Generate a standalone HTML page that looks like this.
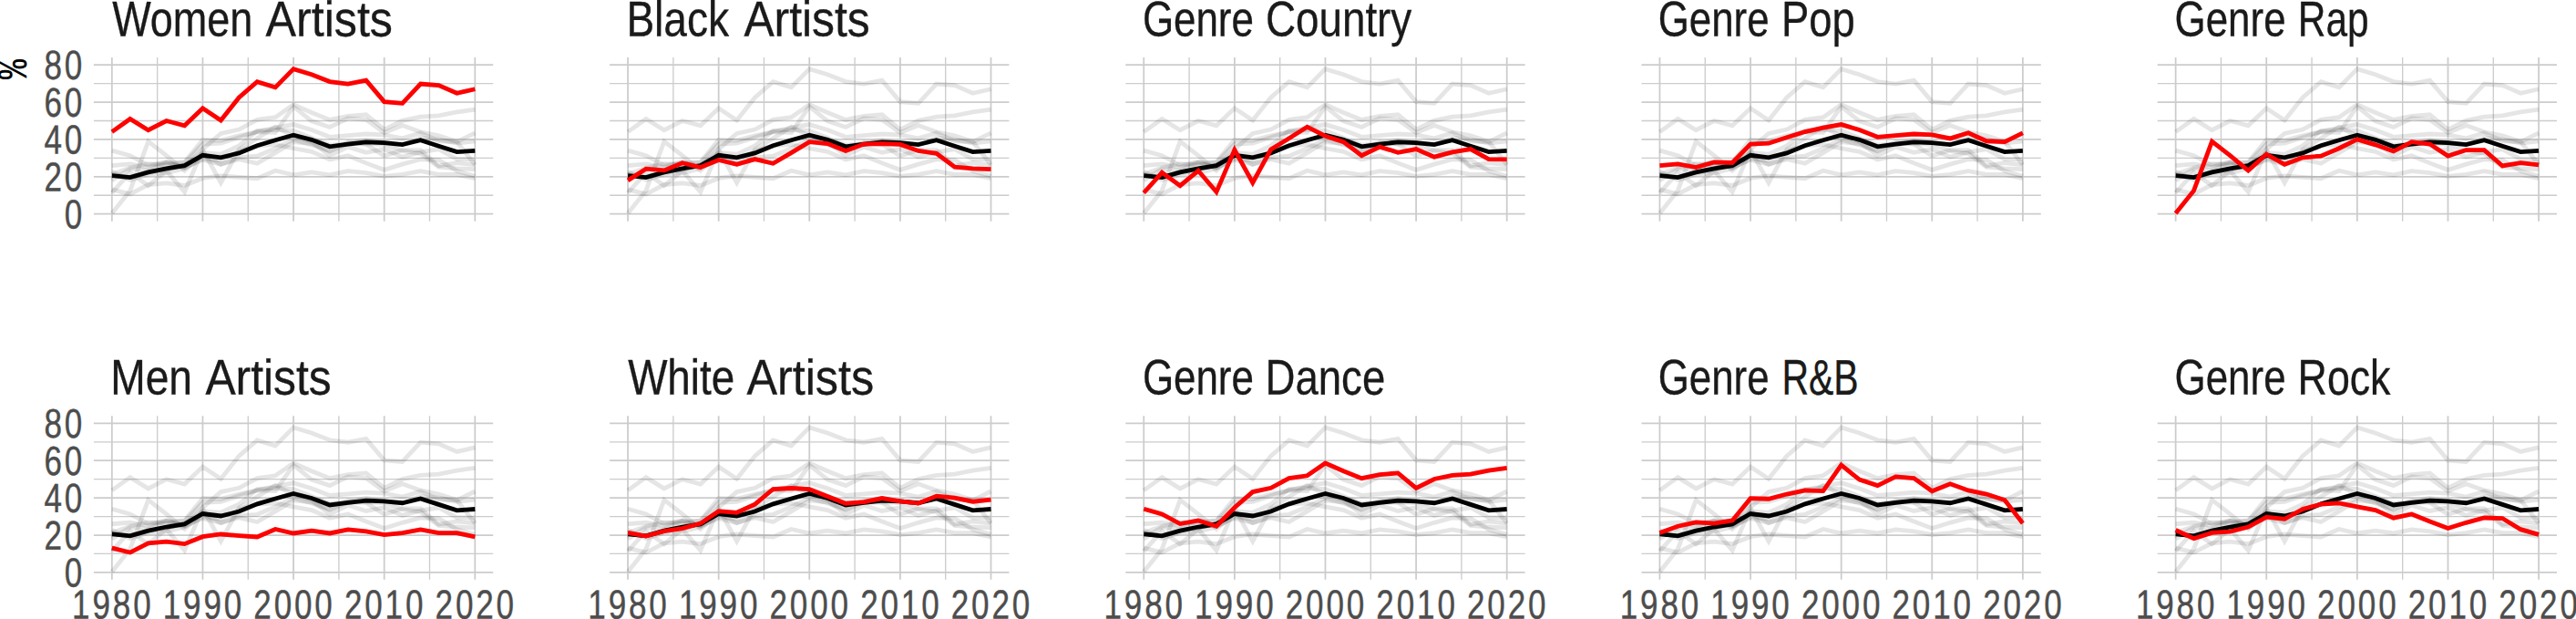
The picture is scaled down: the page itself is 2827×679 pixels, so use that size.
<!DOCTYPE html>
<html lang="en"><head><meta charset="utf-8"><title>Share by group, 1980-2020</title>
<style>
html,body{margin:0;padding:0;background:#fff;}
body{width:2827px;height:679px;overflow:hidden;}
svg{display:block;}
text{font-family:"Liberation Sans",sans-serif;text-rendering:geometricPrecision;}
.t{font-size:54.5px;fill:#1a1a1a;stroke:#1a1a1a;stroke-width:0.35px;}
.a{font-size:44.9px;fill:#4d4d4d;stroke:#4d4d4d;stroke-width:0.45px;letter-spacing:3.698px;}
.p{font-family:"Liberation Mono",monospace;font-size:46.4px;fill:#000;stroke:#000;stroke-width:0.25px;}
.g{stroke:#cccccc;stroke-width:1.76;fill:none;}
.m{stroke-width:1.32;}
.o{stroke:#000;stroke-opacity:0.1;stroke-width:4.8;fill:none;stroke-linejoin:miter;stroke-miterlimit:10;}
.k{stroke:#000;stroke-width:4.8;fill:none;stroke-linejoin:miter;stroke-miterlimit:10;}
.r{stroke:#ff0000;stroke-width:4.8;fill:none;stroke-linejoin:miter;stroke-miterlimit:10;}
</style></head><body>
<svg width="2827" height="679" viewBox="0 0 2827 679">
<rect width="2827" height="679" fill="#fff"/>
<defs>
<g id="grid0"><path class="g m" d="M-19.95 -20.44H418.35M-19.95 -61.33H418.35M-19.95 -102.21H418.35M-19.95 -143.10H418.35M49.81 -171.64V8.00M149.42 -171.64V8.00M249.03 -171.64V8.00M348.64 -171.64V8.00"/><path class="g" d="M-19.95 0.00H418.35M-19.95 -40.88H418.35M-19.95 -81.77H418.35M-19.95 -122.66H418.35M-19.95 -163.54H418.35M0.00 -171.64V8.00M99.61 -171.64V8.00M199.22 -171.64V8.00M298.84 -171.64V8.00M398.45 -171.64V8.00"/></g>
<g id="grid1"><path class="g m" d="M-19.95 -20.44H418.35M-19.95 -61.33H418.35M-19.95 -102.21H418.35M-19.95 -143.10H418.35M49.81 -171.64V7.80M149.42 -171.64V7.80M249.03 -171.64V7.80M348.64 -171.64V7.80"/><path class="g" d="M-19.95 0.00H418.35M-19.95 -40.88H418.35M-19.95 -81.77H418.35M-19.95 -122.66H418.35M-19.95 -163.54H418.35M0.00 -171.64V7.80M99.61 -171.64V7.80M199.22 -171.64V7.80M298.84 -171.64V7.80M398.45 -171.64V7.80"/></g>
<g id="bg">
<polyline class="o" points="0.00,-90.05 19.92,-104.26 39.84,-91.99 59.77,-102.21 79.69,-96.90 99.61,-115.91 119.53,-102.62 139.46,-127.77 159.38,-144.94 179.30,-138.80 199.22,-159.04 219.15,-152.91 239.07,-145.14 258.99,-142.69 278.91,-146.57 298.84,-123.06 318.76,-121.43 338.68,-142.69 358.61,-141.05 378.53,-132.47 398.45,-136.96"/>
<polyline class="o" points="0.00,-36.80 19.92,-49.47 39.84,-47.84 59.77,-56.01 79.69,-51.11 99.61,-59.28 119.53,-54.38 139.46,-60.10 159.38,-55.40 179.30,-67.05 199.22,-79.01 219.15,-77.07 239.07,-69.30 258.99,-76.66 278.91,-77.07 298.84,-76.25 318.76,-69.30 338.68,-66.44 358.61,-51.52 378.53,-49.88 398.45,-49.06"/>
<polyline class="o" points="0.00,-23.20 19.92,-45.38 39.84,-31.07 59.77,-47.43 79.69,-24.12 99.61,-70.32 119.53,-34.24 139.46,-70.73 159.38,-83.00 179.30,-95.47 199.22,-85.45 219.15,-79.11 239.07,-63.99 258.99,-73.59 278.91,-67.46 298.84,-71.14 318.76,-62.55 338.68,-67.87 358.61,-71.14 378.53,-60.10 398.45,-59.90"/>
<polyline class="o" points="0.00,-53.15 19.92,-54.79 39.84,-51.11 59.77,-56.83 79.69,-56.22 99.61,-76.66 119.53,-77.48 139.46,-84.02 159.38,-90.15 179.30,-94.65 199.22,-98.12 219.15,-92.20 239.07,-84.43 258.99,-86.06 278.91,-87.70 298.84,-86.88 318.76,-82.79 338.68,-88.92 358.61,-79.93 378.53,-79.11 398.45,-88.92"/>
<polyline class="o" points="0.00,-0.61 19.92,-25.55 39.84,-79.52 59.77,-63.99 79.69,-47.63 99.61,-65.62 119.53,-54.38 139.46,-61.94 159.38,-63.58 179.30,-71.96 199.22,-81.77 219.15,-75.84 239.07,-68.69 258.99,-79.01 278.91,-76.66 298.84,-63.58 318.76,-70.12 338.68,-70.12 358.61,-52.74 378.53,-56.01 398.45,-53.87"/>
<polyline class="o" points="0.00,-26.78 19.92,-21.87 39.84,-32.09 59.77,-33.73 79.69,-31.28 99.61,-39.25 119.53,-41.91 139.46,-40.27 159.38,-38.94 179.30,-47.43 199.22,-42.93 219.15,-45.79 239.07,-42.93 258.99,-47.02 278.91,-44.97 298.84,-41.29 318.76,-43.34 338.68,-47.02 358.61,-43.34 378.53,-43.34 398.45,-38.94"/>
<polyline class="o" points="0.00,-43.54 19.92,-39.86 39.84,-45.18 59.77,-48.35 79.69,-53.76 99.61,-67.26 119.53,-65.62 139.46,-74.82 159.38,-91.38 179.30,-92.40 199.22,-91.38 219.15,-83.41 239.07,-75.64 258.99,-77.27 278.91,-81.36 298.84,-78.09 318.76,-75.84 338.68,-83.81 358.61,-81.77 378.53,-77.68 398.45,-79.73"/>
<polyline class="o" points="0.00,-69.61 19.92,-63.99 39.84,-53.35 59.77,-56.93 79.69,-50.70 99.61,-71.14 119.53,-88.31 139.46,-92.60 159.38,-103.34 179.30,-106.10 199.22,-119.90 219.15,-111.21 239.07,-103.23 258.99,-107.32 278.91,-108.96 298.84,-92.60 318.76,-102.42 338.68,-106.51 358.61,-107.73 378.53,-111.82 398.45,-114.48"/>
<polyline class="o" points="0.00,-43.34 19.92,-50.70 39.84,-54.99 59.77,-53.87 79.69,-56.93 99.61,-81.26 119.53,-80.65 139.46,-85.86 159.38,-89.95 179.30,-89.33 199.22,-117.75 219.15,-101.80 239.07,-95.26 258.99,-104.97 278.91,-103.34 298.84,-89.13 318.76,-97.10 338.68,-89.95 358.61,-85.86 378.53,-79.32 398.45,-53.87"/>
<polyline class="o" points="0.00,-46.40 19.92,-37.21 39.84,-43.54 59.77,-44.77 79.69,-49.88 99.61,-60.71 119.53,-58.57 139.46,-69.50 159.38,-74.82 179.30,-76.05 199.22,-71.96 219.15,-68.28 239.07,-59.69 258.99,-63.99 278.91,-55.81 298.84,-48.35 318.76,-54.58 338.68,-59.90 358.61,-59.39 378.53,-47.22 398.45,-41.50"/>
</g>
<polyline id="avg" class="k" points="0.00,-42.11 19.92,-40.07 39.84,-45.79 59.77,-49.88 79.69,-53.05 99.61,-64.39 119.53,-61.94 139.46,-66.85 159.38,-75.02 179.30,-80.95 199.22,-86.47 219.15,-81.36 239.07,-73.90 258.99,-76.56 278.91,-78.81 298.84,-77.99 318.76,-76.15 338.68,-80.95 358.61,-74.51 378.53,-68.07 398.45,-69.40"/>
</defs>
<g transform="translate(122.85 234.70)">
<use href="#grid0"/><use href="#bg"/><use href="#avg"/>
<polyline class="r" points="0.00,-90.05 19.92,-104.26 39.84,-91.99 59.77,-102.21 79.69,-96.90 99.61,-115.91 119.53,-102.62 139.46,-127.77 159.38,-144.94 179.30,-138.80 199.22,-159.04 219.15,-152.91 239.07,-145.14 258.99,-142.69 278.91,-146.57 298.84,-123.06 318.76,-121.43 338.68,-142.69 358.61,-141.05 378.53,-132.47 398.45,-136.96"/>
</g>
<text class="t" y="39.55" transform="rotate(0.05 277.1 39.5)"><tspan x="123.20" textLength="154.11" lengthAdjust="spacingAndGlyphs">Women</tspan> <tspan x="291.50" textLength="139.44" lengthAdjust="spacingAndGlyphs">Artists</tspan></text>
<g transform="translate(689.05 234.70)">
<use href="#grid0"/><use href="#bg"/><use href="#avg"/>
<polyline class="r" points="0.00,-36.80 19.92,-49.47 39.84,-47.84 59.77,-56.01 79.69,-51.11 99.61,-59.28 119.53,-54.38 139.46,-60.10 159.38,-55.40 179.30,-67.05 199.22,-79.01 219.15,-77.07 239.07,-69.30 258.99,-76.66 278.91,-77.07 298.84,-76.25 318.76,-69.30 338.68,-66.44 358.61,-51.52 378.53,-49.88 398.45,-49.06"/>
</g>
<text class="t" y="39.55" transform="rotate(0.05 821.1 39.5)"><tspan x="687.41" textLength="112.60" lengthAdjust="spacingAndGlyphs">Black</tspan> <tspan x="816.40" textLength="138.33" lengthAdjust="spacingAndGlyphs">Artists</tspan></text>
<g transform="translate(1255.25 234.70)">
<use href="#grid0"/><use href="#bg"/><use href="#avg"/>
<polyline class="r" points="0.00,-23.20 19.92,-45.38 39.84,-31.07 59.77,-47.43 79.69,-24.12 99.61,-70.32 119.53,-34.24 139.46,-70.73 159.38,-83.00 179.30,-95.47 199.22,-85.45 219.15,-79.11 239.07,-63.99 258.99,-73.59 278.91,-67.46 298.84,-71.14 318.76,-62.55 338.68,-67.87 358.61,-71.14 378.53,-60.10 398.45,-59.90"/>
</g>
<text class="t" y="39.55" transform="rotate(0.05 1401.6 39.5)"><tspan x="1253.89" textLength="122.00" lengthAdjust="spacingAndGlyphs">Genre</tspan> <tspan x="1389.00" textLength="160.26" lengthAdjust="spacingAndGlyphs">Country</tspan></text>
<g transform="translate(1821.45 234.70)">
<use href="#grid0"/><use href="#bg"/><use href="#avg"/>
<polyline class="r" points="0.00,-53.15 19.92,-54.79 39.84,-51.11 59.77,-56.83 79.69,-56.22 99.61,-76.66 119.53,-77.48 139.46,-84.02 159.38,-90.15 179.30,-94.65 199.22,-98.12 219.15,-92.20 239.07,-84.43 258.99,-86.06 278.91,-87.70 298.84,-86.88 318.76,-82.79 338.68,-88.92 358.61,-79.93 378.53,-79.11 398.45,-88.92"/>
</g>
<text class="t" y="39.55" transform="rotate(0.05 1927.7 39.5)"><tspan x="1819.69" textLength="121.90" lengthAdjust="spacingAndGlyphs">Genre</tspan> <tspan x="1955.06" textLength="80.68" lengthAdjust="spacingAndGlyphs">Pop</tspan></text>
<g transform="translate(2387.65 234.70)">
<use href="#grid0"/><use href="#bg"/><use href="#avg"/>
<polyline class="r" points="0.00,-0.61 19.92,-25.55 39.84,-79.52 59.77,-63.99 79.69,-47.63 99.61,-65.62 119.53,-54.38 139.46,-61.94 159.38,-63.58 179.30,-71.96 199.22,-81.77 219.15,-75.84 239.07,-68.69 258.99,-79.01 278.91,-76.66 298.84,-63.58 318.76,-70.12 338.68,-70.12 358.61,-52.74 378.53,-56.01 398.45,-53.87"/>
</g>
<text class="t" y="39.55" transform="rotate(0.05 2493.0 39.5)"><tspan x="2386.48" textLength="122.11" lengthAdjust="spacingAndGlyphs">Genre</tspan> <tspan x="2521.80" textLength="77.74" lengthAdjust="spacingAndGlyphs">Rap</tspan></text>
<g transform="translate(122.85 627.90)">
<use href="#grid1"/><use href="#bg"/><use href="#avg"/>
<polyline class="r" points="0.00,-26.78 19.92,-21.87 39.84,-32.09 59.77,-33.73 79.69,-31.28 99.61,-39.25 119.53,-41.91 139.46,-40.27 159.38,-38.94 179.30,-47.43 199.22,-42.93 219.15,-45.79 239.07,-42.93 258.99,-47.02 278.91,-44.97 298.84,-41.29 318.76,-43.34 338.68,-47.02 358.61,-43.34 378.53,-43.34 398.45,-38.94"/>
</g>
<text class="t" y="432.60" transform="rotate(0.05 242.5 432.6)"><tspan x="121.20" textLength="89.87" lengthAdjust="spacingAndGlyphs">Men</tspan> <tspan x="225.40" textLength="138.33" lengthAdjust="spacingAndGlyphs">Artists</tspan></text>
<g transform="translate(689.05 627.90)">
<use href="#grid1"/><use href="#bg"/><use href="#avg"/>
<polyline class="r" points="0.00,-43.54 19.92,-39.86 39.84,-45.18 59.77,-48.35 79.69,-53.76 99.61,-67.26 119.53,-65.62 139.46,-74.82 159.38,-91.38 179.30,-92.40 199.22,-91.38 219.15,-83.41 239.07,-75.64 258.99,-77.27 278.91,-81.36 298.84,-78.09 318.76,-75.84 338.68,-83.81 358.61,-81.77 378.53,-77.68 398.45,-79.73"/>
</g>
<text class="t" y="432.60" transform="rotate(0.05 824.2 432.6)"><tspan x="689.20" textLength="116.94" lengthAdjust="spacingAndGlyphs">White</tspan> <tspan x="819.40" textLength="139.75" lengthAdjust="spacingAndGlyphs">Artists</tspan></text>
<g transform="translate(1255.25 627.90)">
<use href="#grid1"/><use href="#bg"/><use href="#avg"/>
<polyline class="r" points="0.00,-69.61 19.92,-63.99 39.84,-53.35 59.77,-56.93 79.69,-50.70 99.61,-71.14 119.53,-88.31 139.46,-92.60 159.38,-103.34 179.30,-106.10 199.22,-119.90 219.15,-111.21 239.07,-103.23 258.99,-107.32 278.91,-108.96 298.84,-92.60 318.76,-102.42 338.68,-106.51 358.61,-107.73 378.53,-111.82 398.45,-114.48"/>
</g>
<text class="t" y="432.60" transform="rotate(0.05 1387.1 432.6)"><tspan x="1253.89" textLength="122.00" lengthAdjust="spacingAndGlyphs">Genre</tspan> <tspan x="1388.55" textLength="131.67" lengthAdjust="spacingAndGlyphs">Dance</tspan></text>
<g transform="translate(1821.45 627.90)">
<use href="#grid1"/><use href="#bg"/><use href="#avg"/>
<polyline class="r" points="0.00,-43.34 19.92,-50.70 39.84,-54.99 59.77,-53.87 79.69,-56.93 99.61,-81.26 119.53,-80.65 139.46,-85.86 159.38,-89.95 179.30,-89.33 199.22,-117.75 219.15,-101.80 239.07,-95.26 258.99,-104.97 278.91,-103.34 298.84,-89.13 318.76,-97.10 338.68,-89.95 358.61,-85.86 378.53,-79.32 398.45,-53.87"/>
</g>
<text class="t" y="432.60" transform="rotate(0.05 1929.7 432.6)"><tspan x="1819.69" textLength="121.90" lengthAdjust="spacingAndGlyphs">Genre</tspan> <tspan x="1955.40" textLength="84.31" lengthAdjust="spacingAndGlyphs">R&amp;B</tspan></text>
<g transform="translate(2387.65 627.90)">
<use href="#grid1"/><use href="#bg"/><use href="#avg"/>
<polyline class="r" points="0.00,-46.40 19.92,-37.21 39.84,-43.54 59.77,-44.77 79.69,-49.88 99.61,-60.71 119.53,-58.57 139.46,-69.50 159.38,-74.82 179.30,-76.05 199.22,-71.96 219.15,-68.28 239.07,-59.69 258.99,-63.99 278.91,-55.81 298.84,-48.35 318.76,-54.58 338.68,-59.90 358.61,-59.39 378.53,-47.22 398.45,-41.50"/>
</g>
<text class="t" y="432.60" transform="rotate(0.05 2505.0 432.6)"><tspan x="2386.48" textLength="122.11" lengthAdjust="spacingAndGlyphs">Genre</tspan> <tspan x="2521.62" textLength="101.82" lengthAdjust="spacingAndGlyphs">Rock</tspan></text>
<text class="a" x="70.78" y="250.40" textLength="22.35" lengthAdjust="spacingAndGlyphs" transform="rotate(0.05 82.0 250.4)">0</text>
<text class="a" x="48.43" y="209.51" textLength="44.70" lengthAdjust="spacingAndGlyphs" transform="rotate(0.05 70.8 209.5)">20</text>
<text class="a" x="48.43" y="168.63" textLength="44.70" lengthAdjust="spacingAndGlyphs" transform="rotate(0.05 70.8 168.6)">40</text>
<text class="a" x="48.43" y="127.74" textLength="44.70" lengthAdjust="spacingAndGlyphs" transform="rotate(0.05 70.8 127.7)">60</text>
<text class="a" x="48.43" y="86.86" textLength="44.70" lengthAdjust="spacingAndGlyphs" transform="rotate(0.05 70.8 86.9)">80</text>
<text class="a" x="70.78" y="643.60" textLength="22.35" lengthAdjust="spacingAndGlyphs" transform="rotate(0.05 82.0 643.6)">0</text>
<text class="a" x="48.43" y="602.72" textLength="44.70" lengthAdjust="spacingAndGlyphs" transform="rotate(0.05 70.8 602.7)">20</text>
<text class="a" x="48.43" y="561.83" textLength="44.70" lengthAdjust="spacingAndGlyphs" transform="rotate(0.05 70.8 561.8)">40</text>
<text class="a" x="48.43" y="520.95" textLength="44.70" lengthAdjust="spacingAndGlyphs" transform="rotate(0.05 70.8 520.9)">60</text>
<text class="a" x="48.43" y="480.06" textLength="44.70" lengthAdjust="spacingAndGlyphs" transform="rotate(0.05 70.8 480.1)">80</text>
<text class="a" x="79.09" y="678.45" textLength="89.40" lengthAdjust="spacingAndGlyphs" transform="rotate(0.05 123.8 678.5)">1980</text>
<text class="a" x="178.71" y="678.45" textLength="89.40" lengthAdjust="spacingAndGlyphs" transform="rotate(0.05 223.4 678.5)">1990</text>
<text class="a" x="278.32" y="678.45" textLength="89.40" lengthAdjust="spacingAndGlyphs" transform="rotate(0.05 323.0 678.5)">2000</text>
<text class="a" x="377.93" y="678.45" textLength="89.40" lengthAdjust="spacingAndGlyphs" transform="rotate(0.05 422.6 678.5)">2010</text>
<text class="a" x="477.54" y="678.45" textLength="89.40" lengthAdjust="spacingAndGlyphs" transform="rotate(0.05 522.2 678.5)">2020</text>
<text class="a" x="645.29" y="678.45" textLength="89.40" lengthAdjust="spacingAndGlyphs" transform="rotate(0.05 690.0 678.5)">1980</text>
<text class="a" x="744.91" y="678.45" textLength="89.40" lengthAdjust="spacingAndGlyphs" transform="rotate(0.05 789.6 678.5)">1990</text>
<text class="a" x="844.52" y="678.45" textLength="89.40" lengthAdjust="spacingAndGlyphs" transform="rotate(0.05 889.2 678.5)">2000</text>
<text class="a" x="944.13" y="678.45" textLength="89.40" lengthAdjust="spacingAndGlyphs" transform="rotate(0.05 988.8 678.5)">2010</text>
<text class="a" x="1043.74" y="678.45" textLength="89.40" lengthAdjust="spacingAndGlyphs" transform="rotate(0.05 1088.4 678.5)">2020</text>
<text class="a" x="1211.49" y="678.45" textLength="89.40" lengthAdjust="spacingAndGlyphs" transform="rotate(0.05 1256.2 678.5)">1980</text>
<text class="a" x="1311.11" y="678.45" textLength="89.40" lengthAdjust="spacingAndGlyphs" transform="rotate(0.05 1355.8 678.5)">1990</text>
<text class="a" x="1410.72" y="678.45" textLength="89.40" lengthAdjust="spacingAndGlyphs" transform="rotate(0.05 1455.4 678.5)">2000</text>
<text class="a" x="1510.33" y="678.45" textLength="89.40" lengthAdjust="spacingAndGlyphs" transform="rotate(0.05 1555.0 678.5)">2010</text>
<text class="a" x="1609.94" y="678.45" textLength="89.40" lengthAdjust="spacingAndGlyphs" transform="rotate(0.05 1654.6 678.5)">2020</text>
<text class="a" x="1777.69" y="678.45" textLength="89.40" lengthAdjust="spacingAndGlyphs" transform="rotate(0.05 1822.4 678.5)">1980</text>
<text class="a" x="1877.31" y="678.45" textLength="89.40" lengthAdjust="spacingAndGlyphs" transform="rotate(0.05 1922.0 678.5)">1990</text>
<text class="a" x="1976.92" y="678.45" textLength="89.40" lengthAdjust="spacingAndGlyphs" transform="rotate(0.05 2021.6 678.5)">2000</text>
<text class="a" x="2076.53" y="678.45" textLength="89.40" lengthAdjust="spacingAndGlyphs" transform="rotate(0.05 2121.2 678.5)">2010</text>
<text class="a" x="2176.14" y="678.45" textLength="89.40" lengthAdjust="spacingAndGlyphs" transform="rotate(0.05 2220.8 678.5)">2020</text>
<text class="a" x="2343.89" y="678.45" textLength="89.40" lengthAdjust="spacingAndGlyphs" transform="rotate(0.05 2388.6 678.5)">1980</text>
<text class="a" x="2443.51" y="678.45" textLength="89.40" lengthAdjust="spacingAndGlyphs" transform="rotate(0.05 2488.2 678.5)">1990</text>
<text class="a" x="2543.12" y="678.45" textLength="89.40" lengthAdjust="spacingAndGlyphs" transform="rotate(0.05 2587.8 678.5)">2000</text>
<text class="a" x="2642.73" y="678.45" textLength="89.40" lengthAdjust="spacingAndGlyphs" transform="rotate(0.05 2687.4 678.5)">2010</text>
<text class="a" x="2742.34" y="678.45" textLength="89.40" lengthAdjust="spacingAndGlyphs" transform="rotate(0.05 2787.0 678.5)">2020</text>
<text class="p" transform="translate(28.85 87.00) rotate(-90)" textLength="21.93" lengthAdjust="spacingAndGlyphs">%</text>
</svg>
</body></html>
